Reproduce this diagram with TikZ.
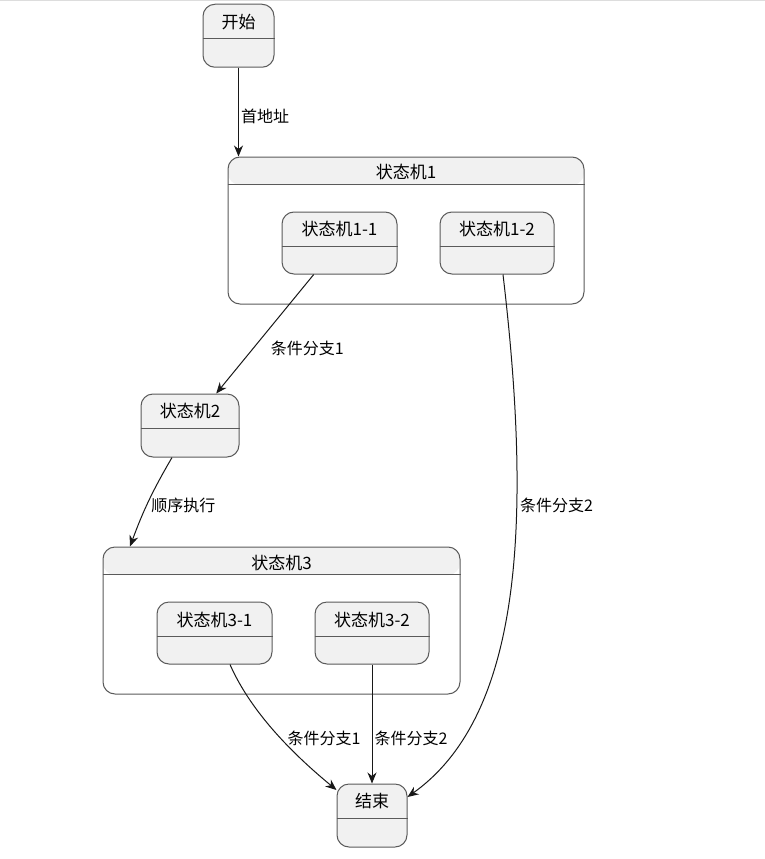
\documentclass[tikz,border=0pt]{standalone}
\usepackage{fontspec}
\newfontfamily\cjk{Noto Sans CJK SC}
\usetikzlibrary{arrows.meta}
\definecolor{boxfill}{HTML}{F1F1F1}
\definecolor{boxline}{HTML}{5A5A5A}
\definecolor{edgeline}{HTML}{181818}
\definecolor{topline}{HTML}{DDDDDD}
\tikzset{
  statename/.style={font=\cjk\fontsize{17}{17}\selectfont, anchor=center, inner sep=0pt},
  smallstate/.style={draw=boxline, fill=boxfill, rounded corners=12pt, line width=1pt,
    inner sep=0pt, minimum height=63pt, label={[statename, yshift=-18pt]north:#1}},
  groupstate/.style={draw=boxline, fill=white, rounded corners=12pt, line width=1pt,
    inner sep=0pt, minimum height=147pt, label={[statename, yshift=-16pt]north:#1},
    path picture={\fill[boxfill] (path picture bounding box.north west)
      rectangle ([yshift=-28pt]path picture bounding box.north east);}},
  sepline/.style={draw=boxline, line width=0.8pt},
  trans/.style={draw=edgeline, line width=1pt, -{Stealth[length=11pt,width=9pt,inset=3.5pt]}},
  translabel/.style={font=\cjk\fontsize{16}{16}\selectfont, anchor=west, inner sep=0pt}
}
\begin{document}
\begin{tikzpicture}[x=1pt,y=-1pt]
\useasboundingbox (0,0) rectangle (765,859);
\draw[topline, line width=1pt] (0,0.5) -- (765,0.5);

% states
\node[smallstate=开始, minimum width=71pt] (start) at (238.5,35.75) {};
\node[groupstate=状态机1, minimum width=356pt] (s1) at (406,230.5) {};
\node[smallstate=状态机1-1, minimum width=115pt, minimum height=62pt] (s11) at (339.5,243) {};
\node[smallstate=状态机1-2, minimum width=114pt, minimum height=62pt] (s12) at (497,243) {};
\node[smallstate=状态机2, minimum width=98pt] (s2) at (190,425.5) {};
\node[groupstate=状态机3, minimum width=357pt] (s3) at (281.5,620.5) {};
\node[smallstate=状态机3-1, minimum width=115pt, minimum height=62pt] (s31) at (214.5,633) {};
\node[smallstate=状态机3-2, minimum width=114pt, minimum height=62pt] (s32) at (372,633) {};
\node[smallstate=结束, minimum width=70pt] (end) at (372,815.5) {};

\foreach \n in {start,s11,s12,s2,s31,s32,end}
  \draw[sepline] ([yshift=-35pt]\n.north west) -- ([yshift=-35pt]\n.north east);
\foreach \n in {s1,s3}
  \draw[sepline] ([yshift=-28pt]\n.north west) -- ([yshift=-28pt]\n.north east);

% transitions
\draw[trans] (start.south) -- (start.south |- s1.north)
  node[translabel, pos=0.55, xshift=2pt] {首地址};
\draw[trans] (s11) -- (s2)
  node[translabel, pos=0.62, xshift=17pt] {条件分支1};
\draw[trans] ([xshift=-18pt]s2.south) to[bend right=5]
  node[translabel, pos=0.55, xshift=4pt] {顺序执行} ([xshift=-151.5pt]s3.north);
\draw[trans] ([xshift=6pt]s12.south) .. controls +(29,246) and +(115,-82) .. ([yshift=18.5pt]end.east)
  node[translabel, pos=0.34, xshift=3pt] {条件分支2};
\draw[trans] ([xshift=15.5pt]s31.south) .. controls +(22,50) and +(-40,-33) .. ([yshift=25.5pt]end.west)
  node[translabel, pos=0.54, xshift=6pt] {条件分支1};
\draw[trans] (s32.south) -- (end.north)
  node[translabel, pos=0.62, xshift=2pt] {条件分支2};
\end{tikzpicture}
\end{document}
